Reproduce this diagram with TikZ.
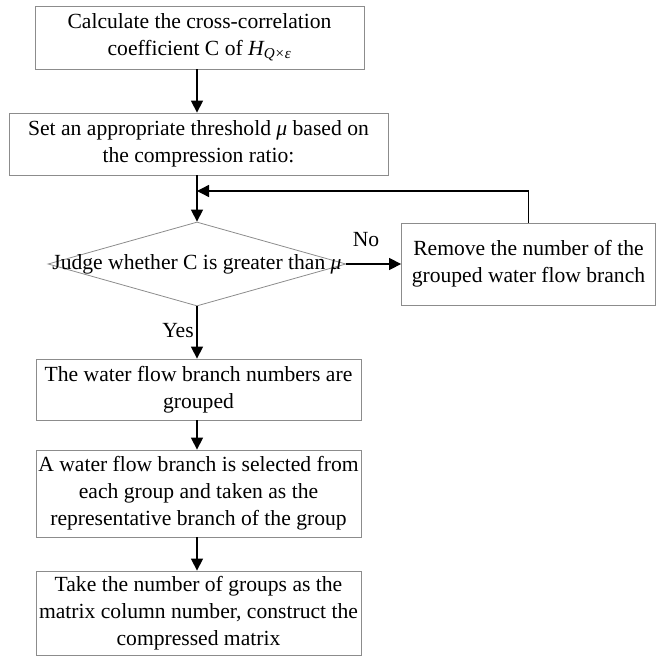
\documentclass[tikz,border=0pt]{standalone}
\usepackage{fontspec}
\setmainfont{Liberation Serif}
\usetikzlibrary{shapes.geometric,arrows.meta}
\begin{document}
\begin{tikzpicture}[x=1pt,y=-1pt,
  box/.style={draw=gray!90, line width=0.8pt, rectangle, align=center, inner sep=1pt,
    font=\fontsize{21.6}{27}\selectfont},
  dec/.style={draw=gray!90, line width=0.8pt, diamond, inner sep=0pt},
  lbl/.style={font=\fontsize{21.6}{27}\selectfont, inner sep=0pt},
  arr/.style={line width=1.4pt, -{Triangle[length=12pt,width=12pt]}},
  ln/.style={line width=1.4pt}]
\useasboundingbox (0,0) rectangle (657,656);
\node[box, minimum width=329pt, minimum height=63pt] (b1) at (199.5,37.5)
  {Calculate the cross-correlation\\coefficient C of {\itshape H}\textsubscript{\itshape Q×ε}};
\node[box, minimum width=379pt, minimum height=62pt] (b2) at (198.5,144)
  {Set an appropriate threshold {\itshape μ} based on\\the compression ratio:};
\node[dec, minimum width=298pt, minimum height=84pt] (d) at (197,264) {};
\node[lbl] (dt) at (197,264) {Judge whether C is greater than {\itshape μ}};
\node[box, minimum width=254pt, minimum height=82pt] (r) at (528.5,264)
  {Remove the number of the\\grouped water flow branch};
\node[box, minimum width=325pt, minimum height=61pt] (b3) at (198.5,389.5)
  {The water flow branch numbers are\\grouped};
\node[box, minimum width=325pt, minimum height=87pt] (b4) at (198.5,493.5)
  {A water flow branch is selected from\\each group and taken as the\\representative branch of the group};
\node[box, minimum width=325pt, minimum height=84pt] (b5) at (198.5,613)
  {Take the number of groups as the\\matrix column number, construct the\\compressed matrix};
\node[lbl] (no) at (366,240) {No};
\node[lbl] (yes) at (178,331) {Yes};
\coordinate (j) at (197,191);
\coordinate (rt) at (r.north |- j);
\draw[arr] (b1.south -| 197,0) -- (b2.north -| 197,0);
\draw[arr] (b2.south -| d.north) -- (d.north);
\draw[arr] (r.north) -- (rt) -- (j);
\draw[arr] (d.east) -- (r.west);
\draw[arr] (d.south) -- (b3.north -| d.south);
\draw[arr] (b3.south -| 197,0) -- (b4.north -| 197,0);
\draw[arr] (b4.south -| 197,0) -- (b5.north -| 197,0);
\end{tikzpicture}
\end{document}
